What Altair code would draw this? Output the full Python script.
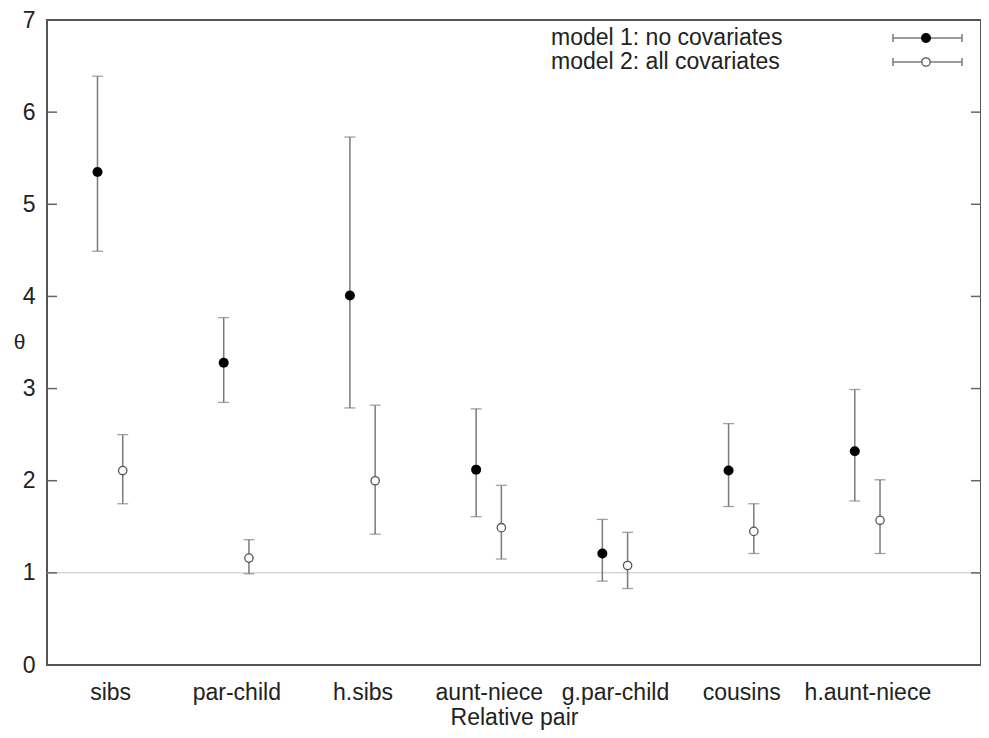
import json
import altair as alt
import pandas as pd

# ---- data ----
categories = ["sibs", "par-child", "h.sibs", "aunt-niece", "g.par-child", "cousins", "h.aunt-niece"]
series_names = ["model 1: no covariates", "model 2: all covariates"]

m1_est = [5.35, 3.28, 4.01, 2.12, 1.21, 2.11, 2.32]
m1_lo = [4.49, 2.85, 2.79, 1.61, 0.91, 1.72, 1.78]
m1_hi = [6.39, 3.77, 5.73, 2.78, 1.58, 2.62, 2.99]

m2_est = [2.11, 1.16, 2.00, 1.49, 1.08, 1.45, 1.57]
m2_lo = [1.75, 0.99, 1.42, 1.15, 0.83, 1.21, 1.21]
m2_hi = [2.50, 1.36, 2.82, 1.95, 1.44, 1.75, 2.01]

y_ticks = [0, 1, 2, 3, 4, 5, 6, 7]
ref_line = [1]

# ---- tables ----
rows = []
for i, c in enumerate(categories):
    rows.append({"cat": c, "series": series_names[0], "pos": i + 1 - 0.1,
                 "est": m1_est[i], "lo": m1_lo[i], "hi": m1_hi[i]})
    rows.append({"cat": c, "series": series_names[1], "pos": i + 1 + 0.1,
                 "est": m2_est[i], "lo": m2_lo[i], "hi": m2_hi[i]})
df = pd.DataFrame(rows)
d1 = df[df.series == series_names[0]]
d2 = df[df.series == series_names[1]]
tick_df = pd.DataFrame({"v": y_ticks[1:-1]})
ref_df = pd.DataFrame({"v": ref_line})

W, H = 934, 645
LEFT = 39
FONT = "Liberation Sans"
FS = 23
BAR = "#7a7a7a"

xscale = alt.Scale(domain=[0.5, 7.9], nice=False, zero=False)
yscale = alt.Scale(domain=[0, 7], nice=False, zero=False)

label_expr = json.dumps(categories) + "[datum.value - 1]"
xaxis = alt.Axis(values=list(range(1, len(categories) + 1)), labelExpr=label_expr,
                 ticks=False, domain=False, grid=False, labelFlush=False,
                 labelOverlap=False, labelFont=FONT, labelFontSize=FS,
                 labelColor="#222", labelPadding=16,
                 title="Relative pair", titleFont=FONT, titleFontSize=FS,
                 titleFontWeight="normal", titleColor="#222", titlePadding=2)
yaxis = alt.Axis(values=y_ticks, ticks=False, domain=False, grid=False,
                 labelFont=FONT, labelFontSize=FS, labelColor="#222",
                 labelPadding=12, title="θ", titleAngle=0, titleX=-28,
                 titleY=H / 2, titleAlign="center", titleBaseline="middle",
                 titleFont=FONT, titleFontSize=21, titleFontWeight="normal",
                 titleColor="#222")

X = lambda: alt.X("pos:Q", scale=xscale, axis=xaxis)

ref = alt.Chart(ref_df).mark_rule(color="#d8d8d8", strokeWidth=1.5).encode(
    y=alt.Y("v:Q", scale=yscale, axis=yaxis), x=alt.value(0), x2=alt.value(W))

left_ticks = alt.Chart(tick_df).mark_rule(color="#666", strokeWidth=1.5).encode(
    y=alt.Y("v:Q", scale=yscale, axis=yaxis), x=alt.value(0), x2=alt.value(10))
right_ticks = alt.Chart(tick_df).mark_rule(color="#666", strokeWidth=1.5).encode(
    y=alt.Y("v:Q", scale=yscale, axis=yaxis), x=alt.value(W - 10), x2=alt.value(W))

bars = alt.Chart(df).mark_rule(color=BAR, strokeWidth=1.5).encode(
    x=X(), y=alt.Y("lo:Q", scale=yscale, axis=yaxis), y2="hi:Q")
cap_lo = alt.Chart(df).mark_tick(orient="horizontal", size=11, thickness=1.3, color=BAR).encode(
    x=X(), y=alt.Y("lo:Q", scale=yscale, axis=yaxis))
cap_hi = alt.Chart(df).mark_tick(orient="horizontal", size=11, thickness=1.3, color=BAR).encode(
    x=X(), y=alt.Y("hi:Q", scale=yscale, axis=yaxis))

pts1 = alt.Chart(d1).mark_point(shape="circle", filled=True, size=100, color="black", opacity=1).encode(
    x=X(), y=alt.Y("est:Q", scale=yscale, axis=yaxis))
pts2 = alt.Chart(d2).mark_point(shape="circle", size=70, fill="white", fillOpacity=1,
                                stroke="#555", strokeWidth=1.3, opacity=1).encode(
    x=X(), y=alt.Y("est:Q", scale=yscale, axis=yaxis))

# ---- legend (gnuplot style, top right inside the frame) ----
leg_layers = []
leg_y = [18, 42]
TX, L0, L1, PX = 504, 846, 915, 879
for k, name in enumerate(series_names):
    one = pd.DataFrame({"t": [name]})
    yy = leg_y[k]
    leg_layers.append(alt.Chart(one).mark_text(align="left", baseline="middle", font=FONT,
                                               fontSize=FS, color="#222").encode(
        text="t:N", x=alt.value(TX), y=alt.value(yy)))
    leg_layers.append(alt.Chart(one).mark_rule(color=BAR, strokeWidth=1.5).encode(
        x=alt.value(L0), x2=alt.value(L1), y=alt.value(yy)))
    for cx in (L0, L1):
        leg_layers.append(alt.Chart(one).mark_rule(color=BAR, strokeWidth=1.5).encode(
            x=alt.value(cx), y=alt.value(yy - 4), y2=alt.value(yy + 4)))
    if k == 0:
        leg_layers.append(alt.Chart(one).mark_point(shape="circle", filled=True, size=100,
                                                    color="black", opacity=1).encode(
            x=alt.value(PX), y=alt.value(yy)))
    else:
        leg_layers.append(alt.Chart(one).mark_point(shape="circle", size=70, fill="white",
                                                    fillOpacity=1, stroke="#555",
                                                    strokeWidth=1.3, opacity=1).encode(
            x=alt.value(PX), y=alt.value(yy)))

chart = alt.layer(ref, left_ticks, right_ticks, bars, cap_lo, cap_hi, pts1, pts2,
                  *leg_layers).properties(
    width=W, height=H,
    autosize=alt.AutoSizeParams(type="none"),
    padding={"left": LEFT, "top": 12, "right": 0, "bottom": 65},
    background="white",
).configure_view(stroke="#555", strokeWidth=2)

chart.save("out.html", embed_options={"renderer": "svg", "actions": False})
